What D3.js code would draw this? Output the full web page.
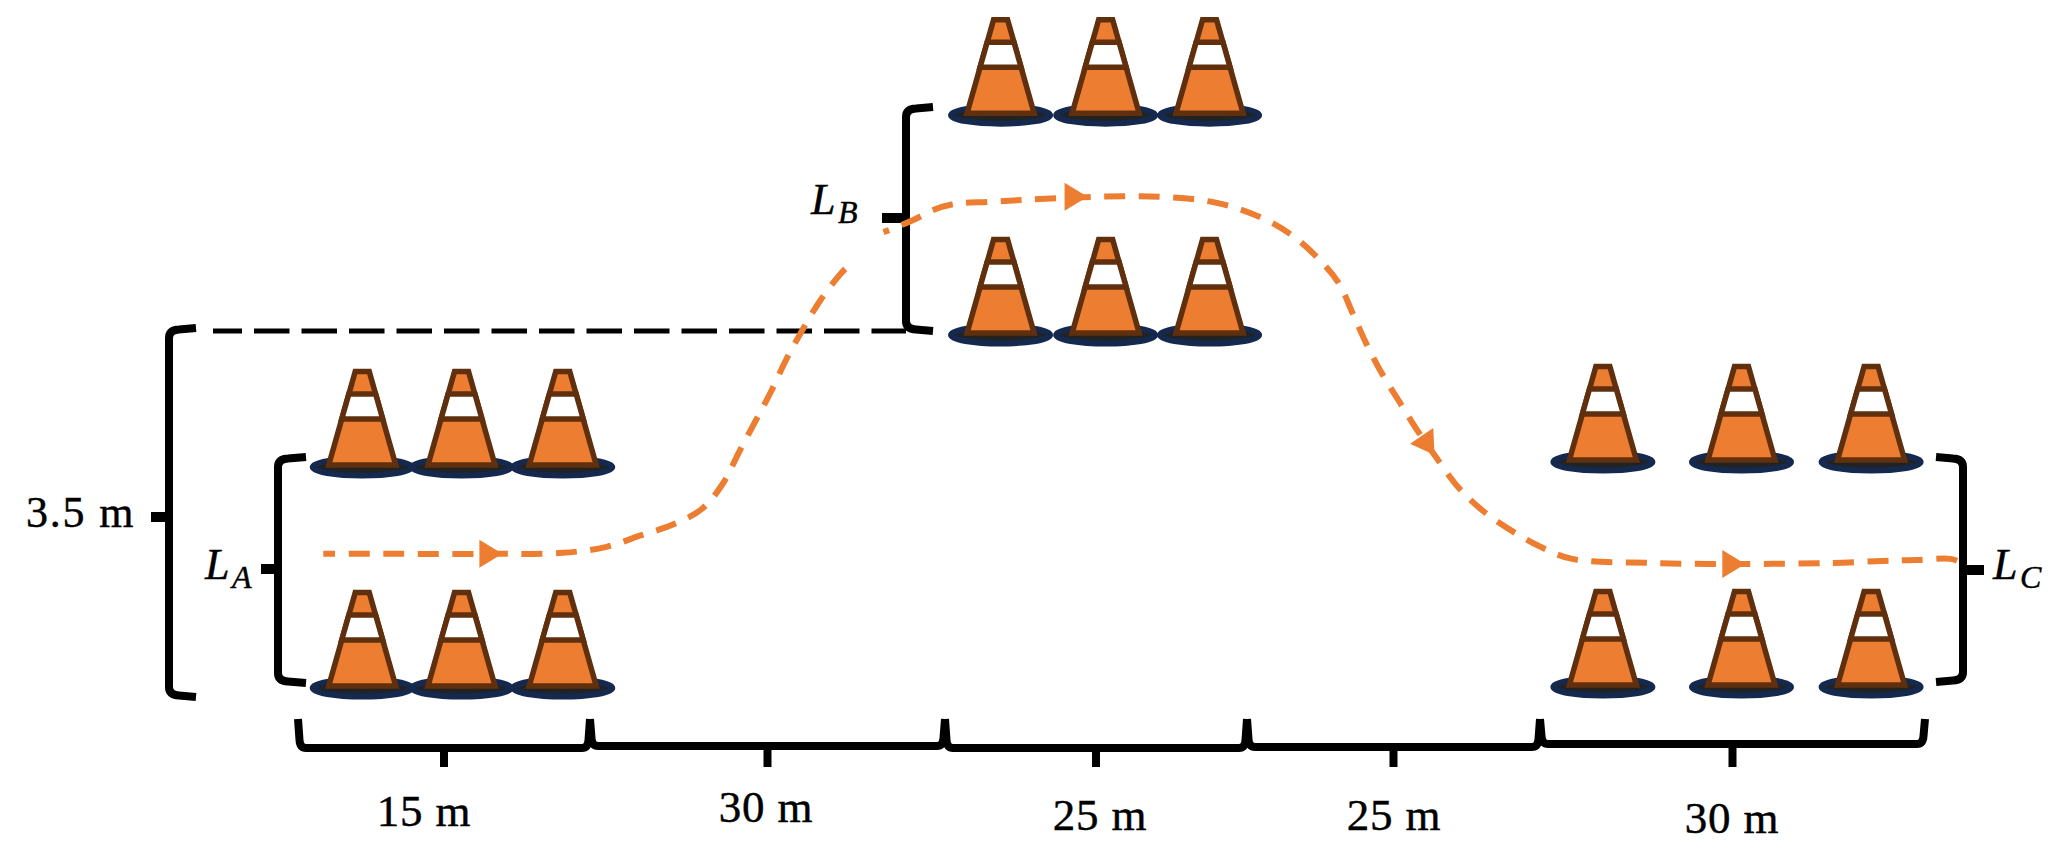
<!DOCTYPE html>
<html><head><meta charset="utf-8">
<style>html,body{margin:0;padding:0;background:#fff}svg{display:block}text{fill:#000;stroke:#000;stroke-width:.45px}</style>
<script src="https://d3js.org/d3.v7.min.js"></script></head>
<body><svg id="c" width="2053" height="854"></svg>
<script>
// Distances along the track (m) and lateral offsets (m)
const spanEdges = [0, 15, 45, 70, 95, 125];
const spanLabels = ["15 m", "30 m", "25 m", "25 m", "30 m"];
const coneTrack = [3.3, 8.4, 13.6, 49.6, 58.3, 66.9, 99.9, 110.7, 120.8];
const coneRows = [[0, 2.19], [3.5, 5.68], [0.01, 2.24]];
const pathTrackIn = [1.3,4.9,9.6,13.6,16.4,19.2,22.0,24.5,26.3,27.6,29.0,30.3,31.6,33.0,34.5,36.2,36.8];
const pathLateralIn = [1.33,1.33,1.33,1.34,1.40,1.51,1.62,1.78,2.04,2.34,2.65,2.94,3.26,3.56,3.85,4.11,4.18];
const pathTrackOut = [39.8,40.5,42.5,44.0,45.8,48.6,51.5,57.4,62.8,67.5,71.1,73.7,75.9,77.8,79.0,80.2,81.6,83.1,84.5,86.0,88.1,90.2,92.7,95.2,97.5,103.5,110.7,117.8,121.7,124.4,127.0,127.7];
const pathLateralOut = [4.52,4.55,4.65,4.74,4.80,4.82,4.84,4.87,4.87,4.81,4.67,4.50,4.28,4.02,3.72,3.41,3.10,2.82,2.56,2.31,1.98,1.75,1.55,1.39,1.28,1.24,1.23,1.24,1.26,1.27,1.28,1.25];
const arrowTrack = [10.5, 56.8, 86.0, 111];
const arrowLateral = [1.33, 4.87, 2.31, 1.23];
const arrowAngle = [0, 0, 56, 0];
const laneLabels = ["A", "B", "C"];
const totalOffset = 3.5;

const x = d3.scaleLinear().domain(spanEdges).range([298, 590, 945, 1247, 1540, 1925]);
const y = d3.scaleLinear().domain([0, 3.5]).range([688, 335]);
const svg = d3.select("#c");
const ORANGE = "#ED7D31", BROWN = "#60300E", NAVY = "#14294D", BLACK = "#000";
const serif = "'Liberation Serif', serif";

// ---- cones
const cones = [];
coneRows.forEach((rows, g) => rows.forEach(l => coneTrack.slice(g * 3, g * 3 + 3).forEach(t => cones.push({t, l}))));
const cone = svg.append("g").selectAll("g").data(cones).join("g")
  .attr("transform", d => `translate(${x(d.t)},${y(d.l)})`);
cone.append("ellipse").attr("rx", 49.5).attr("ry", 8.5).attr("fill", "#222").attr("stroke", NAVY).attr("stroke-width", 6);
cone.append("path").attr("d", "M-33.5,-2 L-7,-95.5 L7,-95.5 L33.5,-2 Z").attr("fill", ORANGE).attr("stroke", BROWN).attr("stroke-width", 5.5).attr("stroke-linejoin", "miter");
cone.append("path").attr("d", "M-20.5,-48 L20.5,-48 L13.4,-73 L-13.4,-73 Z").attr("fill", "#fff").attr("stroke", BROWN).attr("stroke-width", 5.5);

// ---- braces
function vBrace(px, top, bot, endPx) {
  const s = Math.sign(endPx - px), r = 10;
  return `M${endPx},${top} L${px + s * r},${top + 1.5} Q${px},${top + 2} ${px},${top + r} L${px},${bot - r} Q${px},${bot - 2} ${px + s * r},${bot - 1.5} L${endPx},${bot}`;
}
function hBrace(a, b, base, top) {
  return `M${a},${top} L${a + 1.5},${base - 8} Q${a + 2},${base} ${a + 8},${base} L${b - 8},${base} Q${b - 2},${base} ${b - 1.5},${base - 8} L${b},${top}`;
}
const braces = svg.append("g").attr("fill", "none").attr("stroke", BLACK).attr("stroke-width", 8);
const vb = [
  {px: 169, a: totalOffset + 0.07, b: -0.09, end: 196, tick: 151, ty: 517},
  {px: 278, a: coneRows[0][1] + 0.1, b: 0.05, end: 306, tick: 261, ty: 569},
  {px: 906, a: coneRows[1][1] + 0.08, b: coneRows[1][0] + 0.04, end: 933, tick: 882, ty: 218},
  {px: 1963, a: coneRows[2][1] + 0.05, b: coneRows[2][0] + 0.05, end: 1936, tick: 1984, ty: 570}
];
braces.selectAll("path.v").data(vb).join("path").attr("class", "v")
  .attr("d", d => vBrace(d.px, y(d.a), y(d.b), d.end));
braces.selectAll("line.t").data(vb).join("line").attr("class", "t")
  .attr("x1", d => d.tick).attr("x2", d => d.px).attr("y1", d => d.ty).attr("y2", d => d.ty).attr("stroke-width", 10);
const baseY = [748, 746, 748, 747, 744];
const labelY = [826, 822, 830, 830, 833];
const labelX = [424, 766, 1100, 1394, 1732];
braces.selectAll("path.h").data(spanLabels).join("path").attr("class", "h")
  .attr("d", (d, i) => hBrace(x(spanEdges[i]), x(spanEdges[i + 1]), baseY[i], 719));
braces.selectAll("line.m").data(spanLabels).join("line").attr("class", "m")
  .attr("x1", (d, i) => (x(spanEdges[i]) + x(spanEdges[i + 1])) / 2)
  .attr("x2", (d, i) => (x(spanEdges[i]) + x(spanEdges[i + 1])) / 2)
  .attr("y1", (d, i) => baseY[i]).attr("y2", 767);

// ---- dashed reference line at 3.5 m
svg.append("line").attr("x1", 213).attr("x2", 906).attr("y1", y(totalOffset) - 4).attr("y2", y(totalOffset) - 4)
  .attr("stroke", BLACK).attr("stroke-width", 5).attr("stroke-dasharray", "35.5 12").attr("stroke-dashoffset", 6.5);

// ---- vehicle path
const curve = d3.curveCatmullRom.alpha(0.5);
function pathD(t, l) {
  return d3.line().x(i => x(t[i])).y(i => y(l[i])).curve(curve)(d3.range(t.length));
}
svg.append("g").selectAll("path").data([[pathTrackIn, pathLateralIn, 9], [pathTrackOut, pathLateralOut, 15]]).join("path")
  .attr("d", d => pathD(d[0], d[1])).attr("fill", "none")
  .attr("stroke", ORANGE).attr("stroke-width", 6).attr("stroke-dasharray", "21 13.5").attr("stroke-dashoffset", d => d[2]);
svg.append("g").selectAll("path").data(arrowTrack).join("path")
  .attr("d", "M0,0 L-23,-14 L-23,14 Z").attr("fill", ORANGE)
  .attr("transform", (d, i) => `translate(${x(d)},${y(arrowLateral[i])}) rotate(${arrowAngle[i]})`);

// ---- labels
svg.append("g").selectAll("text").data(spanLabels).join("text")
  .attr("x", (d, i) => labelX[i]).attr("y", (d, i) => labelY[i]).attr("text-anchor", "middle")
  .attr("font-family", serif).attr("font-size", 45).attr("letter-spacing", 0.8).text(d => d);
svg.append("text").attr("x", 26).attr("y", 527).attr("font-family", serif).attr("font-size", 44).attr("letter-spacing", 1.8).text(totalOffset + " m");

const laneX = [[205, 232], [811, 838], [1993, 2020]];
const laneY = [579, 214, 579];
laneLabels.forEach((s, i) => {
  svg.append("text").attr("x", laneX[i][0]).attr("y", laneY[i]).attr("font-family", serif).attr("font-style", "italic").attr("font-size", 44).text("L");
  svg.append("text").attr("x", laneX[i][1]).attr("y", laneY[i] + 9).attr("font-family", serif).attr("font-style", "italic").attr("font-size", 32).text(s);
});
</script></body></html>
